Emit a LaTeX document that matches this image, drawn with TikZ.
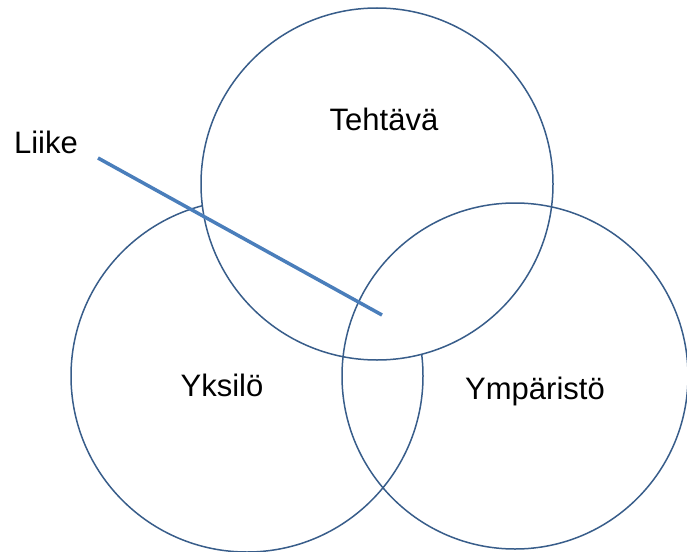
\documentclass[tikz,border=0pt]{standalone}
\usepackage{fontspec}
\setmainfont{Liberation Sans}
\usepackage{tikz}
\usetikzlibrary{positioning}
\definecolor{circleColor}{RGB}{56,93,138}
\definecolor{lineColor}{RGB}{74,126,187}
\tikzstyle{pixels} = [x = 1pt, y = -1pt]
\tikzstyle{circleStyle} = [circle, draw=circleColor, line width=1.5pt, inner sep=0pt]
\tikzstyle{labelText} = [font=\fontsize{31}{37}\selectfont, anchor=base, inner sep=0pt]
\tikzstyle{liikeLine} = [color=lineColor, line width=3.5pt]
\newcommand{\vennCircle}[4]{\node [circleStyle, minimum size=#4 pt] (#1) at (#2,#3) {};}

\begin{document}
\begin{tikzpicture}[pixels]
  \useasboundingbox (0,0) rectangle (687,551);
  \vennCircle{yksilo}{247}{376}{352}
  \node [circleStyle, fill=white, minimum size=352pt] (tehtava) at (377,184) {};
  \vennCircle{ymparisto}{515}{376}{346}

  \node [labelText] (tehtavaText) at (384,130) {Tehtävä};
  \node [labelText] (yksiloText) at (222,396) {Yksilö};
  \node [labelText] (ymparistoText) at (535,399.5) {Ympäristö};
  \node [labelText] (liikeText) at (46,153.5) {Liike};

  \coordinate (liikeStart) at (98,158);
  \coordinate (liikeEnd) at (382,315);
  \draw [liikeLine] (liikeStart) -- (liikeEnd);
\end{tikzpicture}
\end{document}
